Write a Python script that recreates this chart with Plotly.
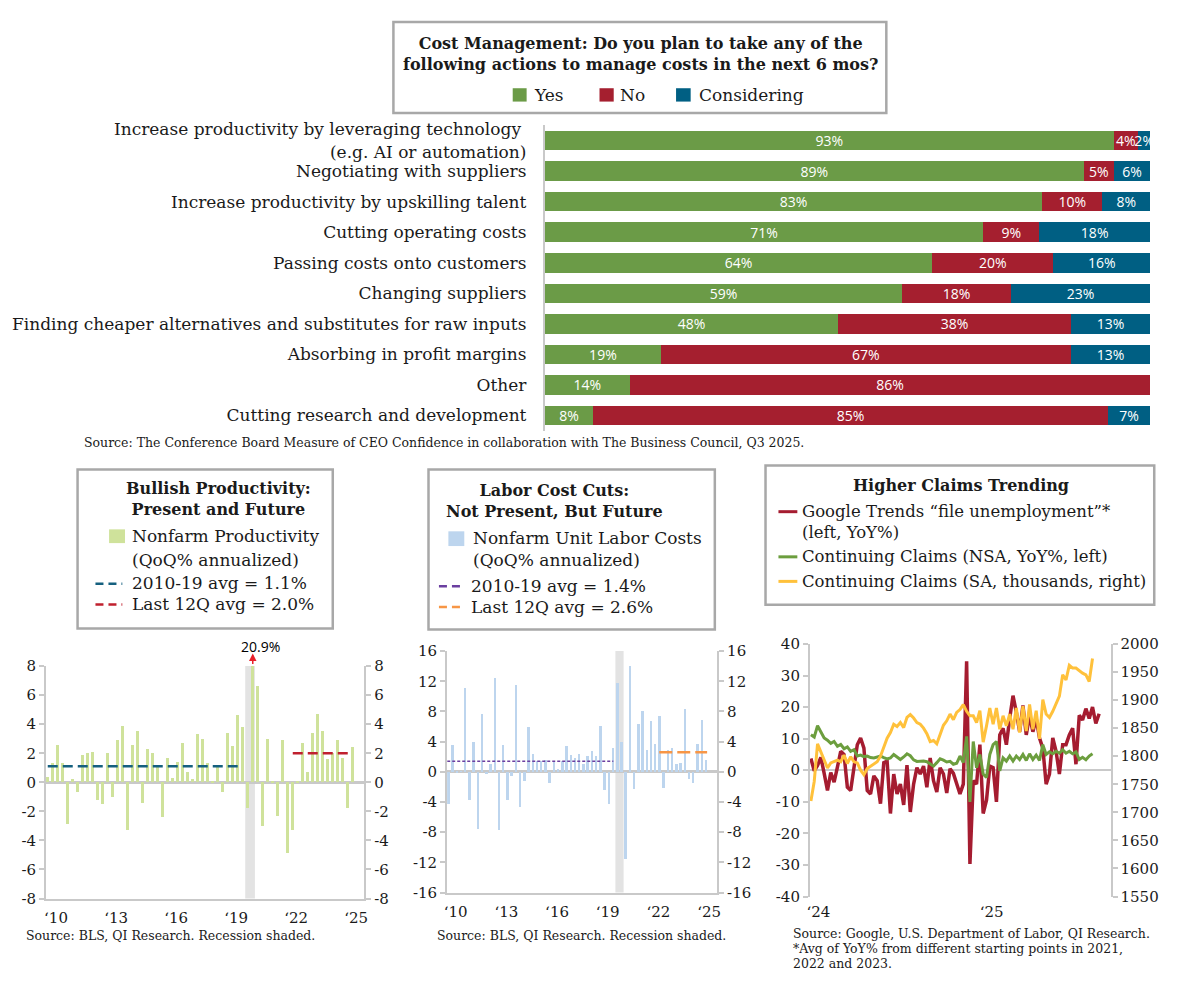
import plotly.graph_objects as go
import pandas as pd

W, H = 1200, 989

# ---------------- data: cost management survey ----------------
actions = [
    "Increase productivity by leveraging technology <br>(e.g. AI or automation)",
    "Negotiating with suppliers",
    "Increase productivity by upskilling talent",
    "Cutting operating costs",
    "Passing costs onto customers",
    "Changing suppliers",
    "Finding cheaper alternatives and substitutes for raw inputs",
    "Absorbing in profit margins",
    "Other",
    "Cutting research and development",
]
yes_pct = [93, 89, 83, 71, 64, 59, 48, 19, 14, 8]
no_pct = [4, 5, 10, 9, 20, 18, 38, 67, 86, 85]
considering_pct = [2, 6, 8, 18, 16, 23, 13, 13, 0, 7]

# ---------------- data: productivity & unit labor costs (2010Q1-2025Q2) ----------------
quarters = pd.date_range("2010-01-01", periods=62, freq="QS")
productivity = [
    0.4, 1.3, 2.6, 1.3, -2.9, 0.2, -0.7, 1.9, 2.0, 2.1,
    -1.2, -1.5, 2.0, -1.0, 2.9, 3.9, -3.3, 2.6, 3.5, -1.4,
    2.3, 2.0, 1.1, -2.4, 1.7, 0.3, 1.4, 2.7, 0.7, 0.2,
    3.3, 3.0, 1.3, 0.1, 1.1, -0.7, 3.4, 2.5, 4.6, 3.8,
    -1.8, 20.9, 6.6, -3.0, 3.0, 0.1, -2.3, 2.9, -4.9, -3.3,
    0.05, 2.7, 0.7, 3.4, 4.7, 3.5, 1.6, 2.0, 2.9, 1.7,
    -1.8, 2.4,
]
unit_labor_costs = [
    -4.2, 3.5, -0.2, 0.1, 11.1, -3.7, 4.0, -7.6, 7.6, -0.3,
    1.1, 12.4, -7.7, 3.6, -3.7, -0.6, 11.5, -4.6, -1.2, 5.9,
    2.4, 1.5, 1.4, 1.6, -1.5, 1.3, 0.4, 1.5, 3.4, 2.2,
    1.8, 2.4, 1.1, 2.1, 2.8, 2.1, 6.1, -2.4, -4.2, 3.1,
    11.8, 3.9, -11.6, 14.0, -2.3, 6.4, 8.0, 2.9, 6.8, 3.7,
    7.4, -2.2, 2.9, 3.1, 1.0, 1.2, 8.3, -0.9, -1.5, 3.7,
    6.9, 1.6,
]
prod_avg_2010_19 = 1.1
prod_avg_last12q = 2.0
ulc_avg_2010_19 = 1.4
ulc_avg_last12q = 2.6
prod_span_2010_19 = ["2010-01-01", "2019-07-01"]
prod_span_last12q = ["2022-04-01", "2025-02-15"]
ulc_span_2010_19 = ["2009-12-01", "2019-10-01"]
ulc_span_last12q = ["2022-06-20", "2025-04-20"]
recession = ["2019-11-15", "2020-05-10"]

year_tick_vals = ["2010-06-01", "2013-06-01", "2016-06-01", "2019-06-01", "2022-06-01", "2025-06-01"]
year_tick_text = ["\u201810", "\u201813", "\u201816", "\u201819", "\u201822", "\u201825"]
prod_ticks = [-8, -6, -4, -2, 0, 2, 4, 6, 8]
ulc_ticks = [-16, -12, -8, -4, 0, 4, 8, 12, 16]

# ---------------- data: claims (weekly) ----------------
weeks = pd.date_range("2023-12-16", periods=88, freq="7D")
google_trends = [
    3.7, -0.2, 1.5, 4.1, -1.0, -6.4, -0.7, -3.8, 1.0, 6.0,
    5.0, -5.4, -6.4, 1.0, 8.1, 10.2, 7.0, -6.4, -7.5, -1.8,
    -3.3, -10.6, 2.4, 2.9, -13.7, -1.2, -7.5, -4.4, -11.0, 1.6,
    -13.2, -4.4, 0.8, -1.2, 1.3, -5.4, 3.9, -3.3, -6.9, 0.8,
    -1.2, -7.2, 0.5, -1.0, -4.0, -7.5, -4.4, 34.5, -29.7, -3.3,
    -4.4, 8.1, -13.7, -9.5, 1.3, 0.8, -10.0, 11.2, 13.3, 8.1,
    16.4, 23.6, 18.4, 12.2, 20.5, 11.2, 17.4, 12.2, 16.4, 10.2,
    7.0, -4.4, -1.2, 10.2, 6.0, -1.2, 8.1, 8.1, 11.2, 13.3,
    1.9, 17.4, 15.9, 19.5, 16.4, 20.0, 14.8, 17.9,
]
cont_claims_yoy = [
    11.2, 10.5, 14.1, 12.0, 10.2, 9.5, 8.5, 9.1, 7.6, 8.2,
    6.8, 7.4, 6.0, 6.5, 4.5, 4.8, 4.3, 4.5, 4.0, 3.9,
    4.2, 4.5, 4.0, 3.6, 3.9, 5.0, 4.2, 3.4, 4.2, 5.2,
    4.6, 3.3, 2.8, 2.9, 2.9, 2.7, 2.0, 1.3, 2.4, 3.6,
    3.2, 2.6, 2.8, 1.9, 2.2, 4.5, 2.4, 10.7, -10.0, 9.1,
    0.8, 5.0, -1.2, -2.3, 5.0, 8.1, 9.1, -0.2, 3.9, 2.9,
    4.5, 2.9, 4.5, 3.4, 5.0, 3.1, 5.2, 3.4, 4.8, 3.1,
    8.1, 5.0, 5.8, 5.2, 6.0, 5.4, 6.5, 5.4, 6.0, 5.2,
    5.8, 3.4, 4.1, 3.3, 4.5, 5.2,
]
cont_claims_sa = [
    1720, 1755, 1822, 1808, 1796, 1779, 1788, 1791, 1793, 1790,
    1802, 1787, 1799, 1790, 1788, 1775, 1767, 1778, 1782, 1787,
    1790, 1800, 1818, 1832, 1842, 1857, 1853, 1860, 1851, 1869,
    1874, 1868, 1860, 1857, 1850, 1840, 1826, 1828, 1822, 1840,
    1855, 1863, 1875, 1865, 1878, 1883, 1892, 1880, 1872, 1872,
    1860, 1881, 1825, 1854, 1886, 1857, 1886, 1848, 1872, 1854,
    1875, 1848, 1886, 1842, 1889, 1845, 1892, 1848, 1881, 1831,
    1901, 1875, 1869, 1880, 1895, 1907, 1945, 1936, 1962, 1957,
    1957, 1952, 1948, 1945, 1933, 1974,
]
claims_tick_vals = ["2024-01-01", "2025-01-01"]
claims_tick_text = ["\u201824", "\u201825"]
claims_left_ticks = [-40, -30, -20, -10, 0, 10, 20, 30, 40]
claims_right_ticks = [1550, 1600, 1650, 1700, 1750, 1800, 1850, 1900, 1950, 2000]

# ---------------- style ----------------
SERIF = "DejaVu Serif"
SANS = "Open Sans"
TXT = "#1a1a1a"
AX = "#c9c9c9"
BOX = "#a8a8a8"
GREEN = "#6b9b47"
RED = "#a51f2f"
BLUE = "#005f83"
PROD = "#cfe29b"
ULC = "#bdd5ee"
SHADE = "#e3e3e3"
DASH_BLUE = "#15607f"
DASH_RED = "#c0202e"
PURPLE = "#6b3fa0"
ORANGE = "#f79646"
L_RED = "#a51c30"
L_GREEN = "#6c9e3e"
L_YELLOW = "#ffc13b"


def px(x):
    return x / W


def py(y):
    return 1 - y / H


DAY_MS = 24 * 3600 * 1000

fig = go.Figure()

# ---- top stacked bars ----
totals = [a + b + c for a, b, c in zip(yes_pct, no_pct, considering_pct)]
for name, vals, color in [("Yes", yes_pct, GREEN), ("No", no_pct, RED), ("Considering", considering_pct, BLUE)]:
    share = [v / t * 100 for v, t in zip(vals, totals)]
    fig.add_trace(go.Bar(
        y=actions, x=share, orientation="h", name=name, marker=dict(color=color, line=dict(width=0)),
        text=[f"{v}%" if v else "" for v in vals], textposition="inside", insidetextanchor="middle",
        textangle=0, constraintext="none",
        textfont=dict(family=SANS, size=14, color="white"), showlegend=False,
        xaxis="x", yaxis="y", hovertemplate=name + ": %{text}<extra></extra>",
    ))

# ---- chart 1: productivity ----
fig.add_trace(go.Bar(x=quarters, y=productivity, width=35 * DAY_MS, marker=dict(color=PROD, line=dict(width=0)),
                     name="Nonfarm Productivity", showlegend=False, xaxis="x2", yaxis="y2"))
fig.add_trace(go.Scatter(x=prod_span_2010_19, y=[prod_avg_2010_19] * 2, mode="lines",
                         line=dict(color=DASH_BLUE, width=2.5, dash="10px,5px"), showlegend=False,
                         xaxis="x2", yaxis="y2"))
fig.add_trace(go.Scatter(x=prod_span_last12q, y=[prod_avg_last12q] * 2, mode="lines",
                         line=dict(color=DASH_RED, width=2.5, dash="10px,5px"), showlegend=False,
                         xaxis="x2", yaxis="y3"))

# ---- chart 2: unit labor costs ----
fig.add_trace(go.Bar(x=quarters, y=unit_labor_costs, width=40 * DAY_MS, marker=dict(color=ULC, line=dict(width=0)),
                     name="Nonfarm Unit Labor Costs", showlegend=False, xaxis="x3", yaxis="y4"))
fig.add_trace(go.Scatter(x=ulc_span_2010_19, y=[ulc_avg_2010_19] * 2, mode="lines",
                         line=dict(color=PURPLE, width=1.5, dash="3px,2px"), showlegend=False,
                         xaxis="x3", yaxis="y4"))
fig.add_trace(go.Scatter(x=ulc_span_last12q, y=[ulc_avg_last12q] * 2, mode="lines",
                         line=dict(color=ORANGE, width=2.5, dash="13px,5px"), showlegend=False,
                         xaxis="x3", yaxis="y5"))

# ---- chart 3: claims ----
fig.add_trace(go.Scatter(x=weeks[:len(google_trends)], y=google_trends, mode="lines",
                         line=dict(color=L_RED, width=3.5), showlegend=False, xaxis="x4", yaxis="y6"))
fig.add_trace(go.Scatter(x=weeks[:len(cont_claims_yoy)], y=cont_claims_yoy, mode="lines",
                         line=dict(color=L_GREEN, width=3), showlegend=False, xaxis="x4", yaxis="y6"))
fig.add_trace(go.Scatter(x=weeks[:len(cont_claims_sa)], y=cont_claims_sa, mode="lines",
                         line=dict(color=L_YELLOW, width=3), showlegend=False, xaxis="x4", yaxis="y7"))

tickfont = dict(family=SERIF, size=15, color=TXT)


def num_axis(domain, rng, ticks, anchor, side="left", overlaying=None, zeroline=False):
    d = dict(range=rng, tickvals=ticks, ticktext=[str(t) for t in ticks], showline=True, linecolor=AX,
             linewidth=2, ticks="outside", ticklen=5, tickwidth=1.5, tickcolor=AX, showgrid=False,
             zeroline=zeroline, zerolinecolor=AX, zerolinewidth=2.5, tickfont=tickfont, anchor=anchor,
             side=side, fixedrange=True)
    if overlaying:
        d["overlaying"] = overlaying
    else:
        d["domain"] = domain
    return d


fig.update_layout(
    width=W, height=H, margin=dict(l=0, r=0, t=0, b=0), autosize=False,
    paper_bgcolor="white", plot_bgcolor="rgba(0,0,0,0)",
    barmode="stack", bargap=0.36,
    font=dict(family=SERIF, color=TXT),
    xaxis=dict(domain=[px(545), px(1154)], range=[0, 100], visible=False, anchor="y", fixedrange=True),
    yaxis=dict(domain=[py(429.6), py(118.4)], type="category", autorange="reversed", showline=True,
               linecolor=AX, linewidth=2, ticks="", tickfont=dict(family=SERIF, size=17, color=TXT),
               ticklabelstandoff=13, anchor="x", showgrid=False, fixedrange=True),
    xaxis2=dict(domain=[px(43.3), px(363.3)], type="date", range=["2009-12-01", "2025-10-26"],
                tickvals=year_tick_vals, ticktext=year_tick_text, showline=True, linecolor=AX, linewidth=2,
                ticks="", showgrid=False, tickfont=tickfont, anchor="y2", ticklabelstandoff=4, fixedrange=True),
    yaxis2=num_axis([py(906), py(669.3)], [-8, 8], prod_ticks, "x2", zeroline=True),
    yaxis3=num_axis(None, [-8, 8], prod_ticks, "x2", side="right", overlaying="y2"),
    xaxis3=dict(domain=[px(446.7), px(718.3)], type="date", range=["2009-11-28", "2025-11-22"],
                tickvals=year_tick_vals, ticktext=year_tick_text, showline=True, linecolor=AX, linewidth=2,
                ticks="", showgrid=False, tickfont=tickfont, anchor="y4", ticklabelstandoff=4, fixedrange=True),
    yaxis4=num_axis([py(900), py(654)], [-16, 16], ulc_ticks, "x3", zeroline=True),
    yaxis5=num_axis(None, [-16, 16], ulc_ticks, "x3", side="right", overlaying="y4"),
    xaxis4=dict(domain=[px(811.7), px(1114)], type="date", range=["2023-12-14", "2025-09-09"],
                tickvals=claims_tick_vals, ticktext=claims_tick_text, showline=False, ticks="",
                showgrid=False, tickfont=tickfont, anchor="y6", ticklabelstandoff=4, fixedrange=True),
    yaxis6=num_axis([py(904), py(646.7)], [-40, 40], claims_left_ticks, "x4", zeroline=True),
    yaxis7=num_axis(None, [1550, 2000], claims_right_ticks, "x4", side="right", overlaying="y6"),
)
fig.layout.yaxis6.zerolinewidth = 2

shapes = []
# recession shading
shapes.append(dict(type="rect", xref="x2", yref="y2 domain", x0=recession[0], x1=recession[1], y0=0, y1=1,
                   fillcolor=SHADE, line=dict(width=0), layer="below"))
shapes.append(dict(type="rect", xref="x3", yref="y4 domain", x0=recession[0], x1=recession[1], y0=0, y1=1,
                   fillcolor=SHADE, line=dict(width=0), layer="below"))


def box(x0, y0, x1, y1):
    shapes.append(dict(type="rect", xref="paper", yref="paper", x0=px(x0), x1=px(x1), y0=py(y1), y1=py(y0),
                       line=dict(color=BOX, width=2.5), fillcolor="white", layer="above"))


def square(x0, y0, x1, y1, color):
    shapes.append(dict(type="rect", xref="paper", yref="paper", x0=px(x0), x1=px(x1), y0=py(y1), y1=py(y0),
                       line=dict(width=0), fillcolor=color, layer="above"))


def hline(x0, x1, y, color, width, dash="solid"):
    shapes.append(dict(type="line", xref="paper", yref="paper", x0=px(x0), x1=px(x1), y0=py(y), y1=py(y),
                       line=dict(color=color, width=width, dash=dash), layer="above"))


box(392.7, 13.3, 888.5, 106)
box(75, 469, 331.7, 631)
box(428, 469, 716, 632)
box(767, 465, 1158, 606.7)

square(512.7, 80.7, 526.7, 94.3, GREEN)
square(600, 80.7, 614.3, 94.3, RED)
square(677, 80.7, 691.7, 94.3, BLUE)

square(106.7, 530, 122.7, 544, PROD)
hline(93, 120, 585.5, DASH_BLUE, 2.5, "8px,5px")
hline(93, 120, 606.5, DASH_RED, 2.5, "8px,5px")

square(448, 532, 464, 547, ULC)
hline(438.5, 464, 588, PURPLE, 2.5, "8px,5px")
hline(438.5, 464, 609, ORANGE, 2.5, "8px,5px")

hline(780, 799, 512, L_RED, 3)
hline(780, 799, 558, L_GREEN, 3)
hline(780, 799, 583, L_YELLOW, 3)

annotations = []


def text(x, y, s, size=17, anchor="left", bold=False, family=SERIF, color=TXT):
    annotations.append(dict(xref="paper", yref="paper", x=px(x), y=py(y), text=f"<b>{s}</b>" if bold else s,
                            showarrow=False, xanchor=anchor, yanchor="middle",
                            font=dict(family=family, size=size, color=color)))


text(641, 45.8, "Cost Management: Do you plan to take any of the<br>following actions to manage costs in the next 6 mos?",
     size=16, anchor="center", bold=True)
text(531.7, 87.5, "Yes")
text(619, 87.5, "No")
text(698, 87.5, "Considering")
text(79, 442, "Source: The Conference Board Measure of CEO Confidence in collaboration with The Business Council, Q3 2025.",
     size=12.5)

text(217, 499, "Bullish Productivity:<br>Present and Future", size=16, anchor="center", bold=True)
text(128, 537, "Nonfarm Productivity")
text(128, 561.5, "(QoQ% annualized)")
text(128, 585, f"2010-19 avg = {prod_avg_2010_19:.1f}%")
text(128, 606, f"Last 12Q avg = {prod_avg_last12q:.1f}%")

text(555, 501, "Labor Cost Cuts:<br>Not Present, But Future", size=16, anchor="center", bold=True)
text(471, 539, "Nonfarm Unit Labor Costs")
text(471, 561.5, "(QoQ% annualized)")
text(468.5, 587.5, f"2010-19 avg = {ulc_avg_2010_19:.1f}%")
text(468.5, 609.5, f"Last 12Q avg = {ulc_avg_last12q:.1f}%")

text(963.5, 485, "Higher Claims Trending", size=16, anchor="center", bold=True)
text(802, 512, "Google Trends \u201cfile unemployment\u201d*", size=16.5)
text(802, 533, "(left, YoY%)", size=16.5)
text(802, 558, "Continuing Claims (NSA, YoY%, left)", size=16.5)
text(802, 583, "Continuing Claims (SA, thousands, right)", size=16.5)

text(20.7, 943.3, "Source: BLS, QI Research. Recession shaded.", size=12.5)
text(435, 943.3, "Source: BLS, QI Research. Recession shaded.", size=12.5)
text(792.7, 941.7, "Source: Google, U.S. Department of Labor, QI Research.", size=12.5)
text(792.7, 956.7, "*Avg of YoY% from different starting points in 2021,", size=12.5)
text(792.7, 971.7, "2022 and 2023.", size=12.5)

# 20.9% call-out for the clipped 2020Q2 productivity bar
peak_i = productivity.index(max(productivity))
annotations.append(dict(xref="x2", yref="paper", x=quarters[peak_i], y=py(649), text=f"{max(productivity)}%",
                        showarrow=False, xanchor="center", yanchor="middle", xshift=8,
                        font=dict(family=SANS, size=14, color="black")))
annotations.append(dict(xref="x2", yref="paper", x=quarters[peak_i], y=py(656.5), text="", showarrow=True,
                        ax=0, ay=12, arrowhead=2, arrowsize=1, arrowwidth=1.5, arrowcolor="#e8202a"))

fig.update_layout(shapes=shapes, annotations=annotations)

fig.write_html("out.html", config={"displayModeBar": False, "staticPlot": False},
               post_script="document.body.style.margin='0';document.body.style.padding='0';"
                           "document.documentElement.style.overflow='hidden';")
